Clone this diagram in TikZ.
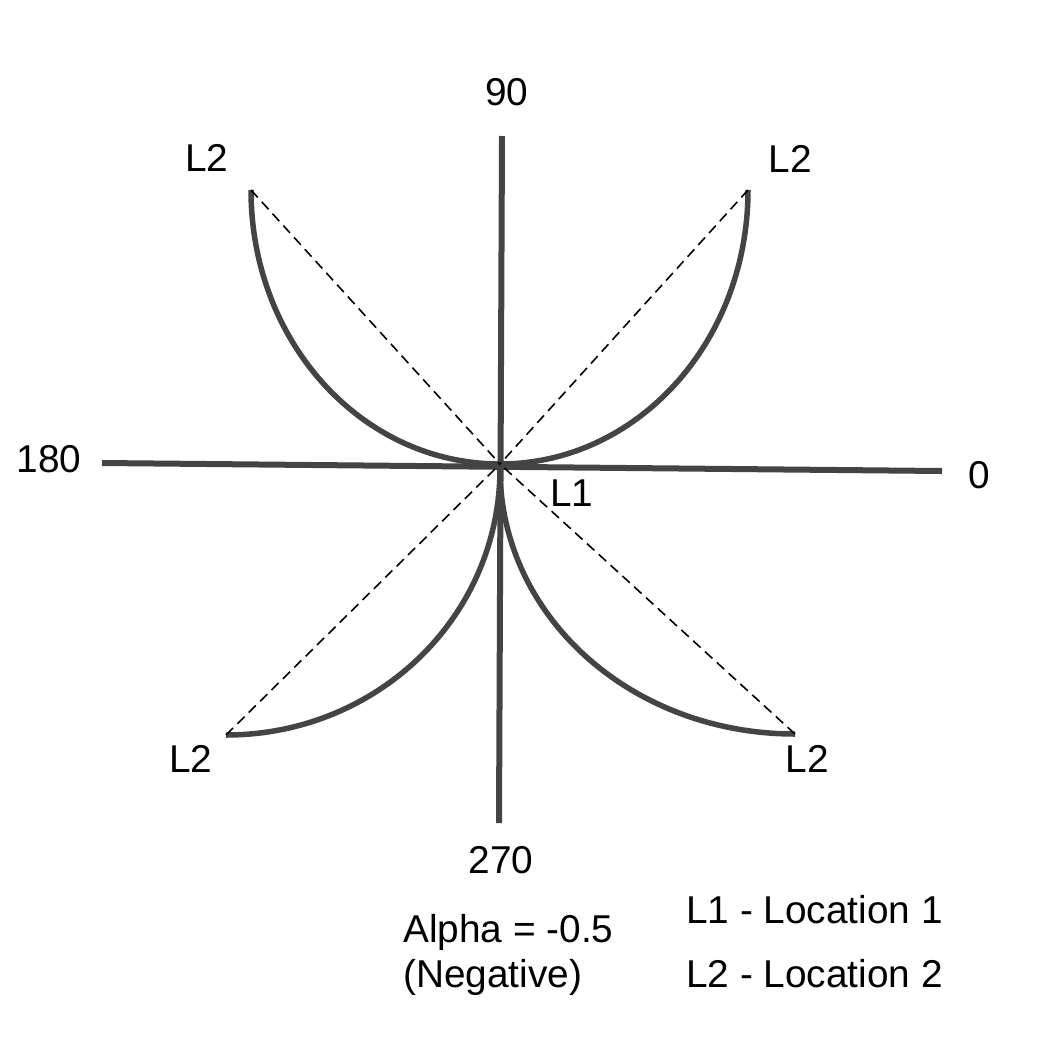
\documentclass[tikz,border=0pt]{standalone}
\usepackage{fontspec}
\setmainfont{Liberation Sans}
\begin{document}
\begin{tikzpicture}[x=1pt,y=-1pt,
  axis/.style={line width=6pt,draw=axisgray},
  curve/.style={line width=5.5pt,draw=axisgray},
  chord/.style={line width=1.6pt,draw=black,dash pattern=on 10pt off 6pt},
  lbl/.style={anchor=base,inner sep=0pt,font=\fontsize{38.8}{45}\selectfont},
  lblw/.style={anchor=base west,inner sep=0pt,font=\fontsize{38.8}{45}\selectfont}]
\definecolor{axisgray}{HTML}{444444}
\useasboundingbox[fill=white] (0,0) rectangle (1042,1042);
% axis end points
\coordinate (top) at (502,136);
\coordinate (bot) at (499,823);
\coordinate (lft) at (102,463);
\coordinate (rgt) at (942,471);
% centre and L2 points
\coordinate (cu) at (500,464);
\coordinate (cl) at (500,468);
\coordinate (ul) at (251,190);
\coordinate (ur) at (748,190);
\coordinate (ll) at (226,735);
\coordinate (lr) at (795,734);
% axes
\draw[axis] (top) -- (bot);
\draw[axis] (lft) -- (rgt);
% curves
\draw[curve] (ul) .. controls +(0,152) and +(-138,0) .. (cu);
\draw[curve] (ur) .. controls +(0,152) and +(137,0) .. (cu);
\draw[curve] (cl) .. controls +(0,149) and +(151,0) .. (ll);
\draw[curve] (cl) .. controls +(0,149) and +(-163,0) .. (lr);
% chords
\draw[chord] (ul) -- (cu);
\draw[chord] (ur) -- (cu);
\draw[chord] (ll) -- (cu);
\draw[chord] (lr) -- (cu);
% labels
\node[lbl] (t90) at (507,105) {90};
\node[lbl] (t270) at (501,873) {270};
\node[lbl] (t180) at (49,472) {180};
\node[lbl] (t0) at (979,488) {0};
\node[lbl] (tl1) at (572,506) {L1};
\node[lbl] (tul) at (207,171) {L2};
\node[lbl] (tur) at (790,172) {L2};
\node[lbl] (tll) at (191,772) {L2};
\node[lbl] (tlr) at (807,772) {L2};
\node[lblw] (alpha) at (403,942) {Alpha = -0.5};
\node[lblw] (neg) at (403,987) {(Negative)};
\node[lblw] (leg1) at (686,923) {L1 - Location 1};
\node[lblw] (leg2) at (686,987) {L2 - Location 2};
\end{tikzpicture}
\end{document}
